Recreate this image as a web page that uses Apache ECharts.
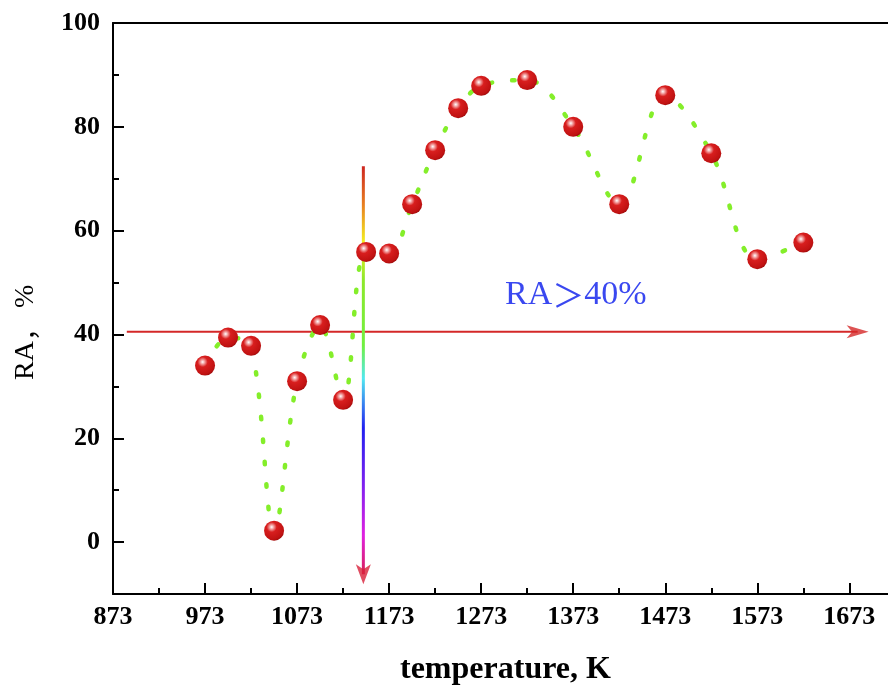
<!DOCTYPE html>
<html>
<head>
<meta charset="utf-8">
<script src="https://cdn.jsdelivr.net/npm/echarts@6/dist/echarts.min.js"></script>
<style>
  html, body { margin: 0; padding: 0; background: #fff; }
  #chart { width: 888px; height: 687px; }
</style>
</head>
<body>
<div id="chart"></div>
<script>
// temperature (K) and RA (%)
const temps = [973, 998, 1023, 1048, 1073, 1098, 1123, 1148, 1173, 1198, 1223, 1248, 1273, 1323, 1373, 1423, 1473, 1523, 1573, 1623];
const raValues = [34.0, 39.4, 37.8, 2.2, 31.0, 41.8, 27.4, 55.9, 55.6, 65.1, 75.5, 83.6, 87.9, 89.0, 80.0, 65.1, 86.1, 74.9, 54.5, 57.7];

const xMajorTicks = [873, 973, 1073, 1173, 1273, 1373, 1473, 1573, 1673];
const xMinorTicks = [923, 1023, 1123, 1223, 1323, 1423, 1523, 1623];
const yMajorTicks = [0, 20, 40, 60, 80, 100];
const yMinorTicks = [10, 30, 50, 70, 90];

// threshold arrow (RA > 40%) and the vertical marker arrow
const threshold = 40.5;
const hArrowFrom = 888;
const hArrowTo = 1682;
const vArrowX = 1145;
const vArrowTop = 72.4;
const vArrowBottom = -6.2;

const X_MIN = 873, X_MAX = 1715;
const Y_MIN = -10, Y_MAX = 100;

const SERIF = "'Liberation Serif', 'DejaVu Serif', serif";
const CJK = "'Noto Sans CJK SC', sans-serif";
const ARROW = "path://M0,0 L10,24 L0,18 L-10,24 Z";

const chart = echarts.init(document.getElementById("chart"), null, { renderer: "canvas" });

const sphere = {
  type: "radial", x: 0.38, y: 0.32, r: 0.72,
  colorStops: [
    { offset: 0, color: "#ffffff" },
    { offset: 0.14, color: "#f3a3a3" },
    { offset: 0.35, color: "#d81e1e" },
    { offset: 0.85, color: "#c01212" },
    { offset: 1, color: "#9c0a0a" },
  ],
};

const rainbow = {
  type: "linear", x: 0, y: 0, x2: 0, y2: 1,
  colorStops: [
    { offset: 0, color: "#cc2020" },
    { offset: 0.1, color: "#e88020" },
    { offset: 0.19, color: "#f4f020" },
    { offset: 0.28, color: "#8ee82a" },
    { offset: 0.44, color: "#70f040" },
    { offset: 0.52, color: "#50e8f0" },
    { offset: 0.64, color: "#2020f0" },
    { offset: 0.78, color: "#8020f0" },
    { offset: 0.9, color: "#e020e0" },
    { offset: 1, color: "#d8204a" },
  ],
};

const axisFont = { fontFamily: SERIF, fontWeight: "bold", fontSize: 26, color: "#000", formatter: (v) => String(v) };
const black2 = { color: "#000", width: 2 };

function bareAxis(pos, min, max) {
  return {
    type: "value", position: pos, min: min, max: max,
    axisLine: { show: false, onZero: false },
    axisLabel: { show: false },
    splitLine: { show: false },
    axisTick: { show: false },
  };
}

const xMinor = bareAxis("bottom", X_MIN, X_MAX);
xMinor.axisTick = { show: true, inside: true, length: 6, customValues: xMinorTicks, lineStyle: black2 };
const xTop = bareAxis("top", X_MIN, X_MAX);
xTop.axisLine = { show: true, onZero: false, lineStyle: black2 };
const yMinor = bareAxis("left", Y_MIN, Y_MAX);
yMinor.axisTick = { show: true, inside: true, length: 6, customValues: yMinorTicks, lineStyle: black2 };

chart.setOption({
  animation: false,
  grid: { left: 113, top: 23, right: 0, bottom: 93 },
  xAxis: [
    {
      type: "value", min: X_MIN, max: X_MAX,
      axisLine: { onZero: false, lineStyle: black2 },
      axisTick: { inside: true, length: 11, customValues: xMajorTicks, lineStyle: black2 },
      axisLabel: Object.assign({ customValues: xMajorTicks, margin: 10 }, axisFont),
      splitLine: { show: false },
    },
    xMinor,
    xTop,
  ],
  yAxis: [
    {
      type: "value", min: Y_MIN, max: Y_MAX,
      axisLine: { onZero: false, lineStyle: black2 },
      axisTick: { inside: true, length: 11, customValues: yMajorTicks, lineStyle: black2 },
      axisLabel: Object.assign({ customValues: yMajorTicks, margin: 13 }, axisFont),
      splitLine: { show: false },
    },
    yMinor,
  ],
  series: [
    {
      type: "line",
      data: [[hArrowFrom, threshold], [hArrowTo, threshold]],
      symbol: "none",
      lineStyle: { color: "#d42828", width: 2 },
      z: 2,
    },
    {
      type: "scatter",
      data: [[hArrowTo, threshold]],
      symbol: ARROW,
      symbolSize: [13, 22],
      symbolRotate: -90,
      itemStyle: { color: "#d42828" },
      z: 2,
    },
    {
      type: "line",
      data: [[vArrowX, vArrowTop], [vArrowX, vArrowBottom]],
      symbol: "none",
      lineStyle: { color: rainbow, width: 3 },
      z: 2,
    },
    {
      type: "scatter",
      data: [[vArrowX, vArrowBottom]],
      symbol: ARROW,
      symbolSize: [15, 20],
      symbolRotate: 180,
      itemStyle: { color: "#d8203a" },
      z: 2,
    },
    {
      type: "line",
      data: temps.map((t, i) => [t, raValues[i]]),
      smooth: 0.35,
      symbol: "circle",
      symbolSize: 20,
      lineStyle: { color: "#84ee2a", width: 4.5, type: [2.5, 20], cap: "round" },
      itemStyle: { color: sphere },
      z: 3,
    },
  ],
  graphic: [
    {
      type: "text", left: 505, top: 278,
      style: {
        text: "{a|RA}{b|＞}{a|40%}",
        rich: {
          a: { font: "34px " + SERIF, fill: "#3a48f0", color: "#3a48f0" },
          b: { font: "32px " + CJK, fill: "#3a48f0", color: "#3a48f0" },
        },
      },
    },
    {
      type: "text", left: 400, top: 654,
      style: { text: "temperature, K", font: "bold 32px " + SERIF, fill: "#000" },
    },
    {
      type: "text", x: 12, y: 380, rotation: Math.PI / 2,
      style: {
        text: "{a|RA}{b|，}{a| %}",
        rich: {
          a: { font: "28px " + SERIF, fill: "#000", color: "#000" },
          b: { font: "26px " + CJK, fill: "#000", color: "#000" },
        },
      },
    },
  ],
});
</script>
</body>
</html>
